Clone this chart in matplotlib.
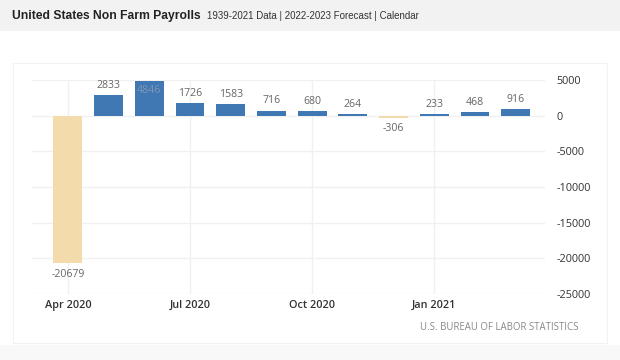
import matplotlib
matplotlib.use("Agg")
import matplotlib.pyplot as plt
from matplotlib.patches import Rectangle

# ── Data ──────────────────────────────────────────────────────────────────────
months = ["Apr 2020", "May 2020", "Jun 2020", "Jul 2020", "Aug 2020", "Sep 2020",
          "Oct 2020", "Nov 2020", "Dec 2020", "Jan 2021", "Feb 2021", "Mar 2021"]
payrolls = [-20679, 2833, 4846, 1726, 1583, 716, 680, 264, -306, 233, 468, 916]
tick_months = ["Apr 2020", "Jul 2020", "Oct 2020", "Jan 2021"]
y_ticks = [5000, 0, -5000, -10000, -15000, -20000, -25000]

BLUE = "#3f78b2"
BEIGE = "#f3dbab"
GRID = "#f0f0f0"
FONT = "Open Sans"
HEAD = "Liberation Sans"

fig = plt.figure(figsize=(6.2, 3.6), dpi=100)
fig.patch.set_facecolor("white")

# header band + chart panel
fig.add_artist(Rectangle((0, 1 - 31 / 360), 1, 31 / 360, transform=fig.transFigure,
                         facecolor="#f2f2f2", edgecolor="none", zorder=0))
fig.add_artist(Rectangle((13 / 620, 1 - 343 / 360), 594 / 620, 280 / 360,
                         transform=fig.transFigure, facecolor="none",
                         edgecolor="#f2f2f2", linewidth=0.8, zorder=0))
fig.add_artist(Rectangle((0, 0), 1, 1 - 345 / 360, transform=fig.transFigure,
                         facecolor="#f8f8f8", edgecolor="none", zorder=0))

fig.text(12 / 620, 1 - 16 / 360, "United States Non Farm Payrolls",
         fontsize=8.7, fontweight="bold", family=HEAD,
         color="#222222", va="center", ha="left")
fig.text(207 / 620, 1 - 16 / 360, "1939-2021 Data | 2022-2023 Forecast | Calendar",
         fontsize=7.0, family=HEAD, color="#333333",
         va="center", ha="left")

ax = fig.add_axes([32 / 620, 1 - 294 / 360, 513 / 620, 214 / 360])
ax.set_facecolor("white")

x = list(range(len(months)))
colors = [BLUE if v >= 0 else BEIGE for v in payrolls]
ax.bar(x, payrolls, width=0.71, color=colors, zorder=3)

ax.set_xlim(-0.88, 11.72)
ax.set_ylim(-25000, 5000)

# gridlines
for yv in y_ticks:
    ax.axhline(yv, color=GRID, linewidth=1, zorder=1)
tick_pos = [months.index(m) for m in tick_months]
for xv in tick_pos:
    ax.axvline(xv, color=GRID, linewidth=1, zorder=1)

for sp in ax.spines.values():
    sp.set_visible(False)

ax.set_xticks(tick_pos)
ax.set_xticklabels(tick_months, fontsize=7.8, family=FONT, fontweight="semibold",
                   color="#333333")
ax.tick_params(axis="x", length=0, pad=4)

ax.yaxis.tick_right()
ax.set_yticks(y_ticks)
ax.set_yticklabels([str(v) for v in y_ticks], fontsize=7.8, family=FONT,
                   color="#333333")
ax.tick_params(axis="y", length=0, pad=8)

# value labels
top = ax.get_ylim()[1]
for xi, v in zip(x, payrolls):
    if v >= 0:
        if v + 1800 > top:
            ax.annotate(str(v), (xi, v), xytext=(0, -7), textcoords="offset points",
                        ha="center", va="center", fontsize=7.6, family=FONT,
                        color="#7f95b8", zorder=4)
        else:
            ax.annotate(str(v), (xi, v), xytext=(0, 7), textcoords="offset points",
                        ha="center", va="center", fontsize=7.6, family=FONT,
                        color="#666666", zorder=4)
    else:
        ax.annotate(str(v), (xi, v), xytext=(0, -8), textcoords="offset points",
                    ha="center", va="center", fontsize=7.6, family=FONT,
                    color="#666666", zorder=4)

fig.text(578 / 620, 1 - 328 / 360, "U.S. BUREAU OF LABOR STATISTICS",
         fontsize=6.9, family=FONT, color="#888888", ha="right", va="center")

fig.savefig("out.png", dpi=100)
